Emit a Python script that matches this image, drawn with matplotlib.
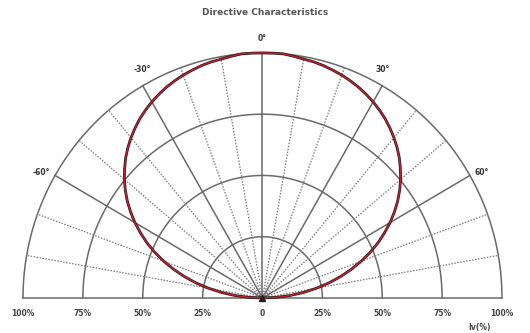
import numpy as np
import matplotlib.pyplot as plt

# radiation pattern, relative intensity vs angle (deg, 0 = on axis), 2.5 deg steps
angles = np.arange(-90, 92.5, 2.5)
intensity = [0.0, 0.058, 0.116, 0.173, 0.229, 0.285, 0.338, 0.389, 0.439, 0.487, 0.532, 0.574,
             0.615, 0.653, 0.689, 0.722, 0.753, 0.781, 0.808, 0.832, 0.854, 0.874, 0.893, 0.909,
             0.924, 0.937, 0.949, 0.959, 0.968, 0.975, 0.982, 0.987, 0.99, 0.995, 1.0, 1.0,
             1.0,
             1.0, 1.0, 0.995, 0.99, 0.987, 0.982, 0.975, 0.968, 0.959, 0.949, 0.937, 0.924,
             0.909, 0.893, 0.874, 0.854, 0.832, 0.808, 0.781, 0.753, 0.722, 0.689, 0.653, 0.615,
             0.574, 0.532, 0.487, 0.439, 0.389, 0.338, 0.285, 0.229, 0.173, 0.116, 0.058, 0.0]

rings = [0.25, 0.5, 0.75, 1.0]
solid_spokes = [-60, -30, 0, 30, 60]
dotted_spokes = [-80, -70, -50, -40, -20, -10, 10, 20, 40, 50, 70, 80]
angle_labels = ['-60°', '-30°', '0°', '30°', '60°']
scale_pos = [-1.0, -0.75, -0.5, -0.25, 0.0, 0.25, 0.5, 0.75, 1.0]
scale_labels = ['100%', '75%', '50%', '25%', '0', '25%', '50%', '75%', '100%']

fig = plt.figure(figsize=(5.3, 3.33), dpi=100)
ax = fig.add_axes([0, 0, 1, 1])
ax.set_xlim(-1.096, 1.117)
ax.set_ylim(-0.143, 1.216)
ax.axis('off')

grid_c = '#6a6a6a'
t = np.radians(np.linspace(-90, 90, 181))
for r in rings:
    ax.plot(r * np.sin(t), r * np.cos(t), color=grid_c, lw=1.1)

for a in solid_spokes:
    th = np.radians(a)
    ax.plot([0, np.sin(th)], [0, np.cos(th)], color=grid_c, lw=1.1)
for a in dotted_spokes:
    th = np.radians(a)
    ax.plot([0, np.sin(th)], [0, np.cos(th)], color='#7a7a7a', lw=0.9, ls=(0, (1.2, 1.2)))
ax.plot([-1, 1], [0, 0], color=grid_c, lw=1.1)

# pattern curve
th = np.radians(angles)
r = np.array(intensity)
ax.plot(r * np.sin(th), r * np.cos(th), color='#2a1a1a', lw=2.0, solid_joinstyle='round')
ax.plot(r * np.sin(th), r * np.cos(th), color='#c42030', lw=1.0, solid_joinstyle='round')

ax.plot([0], [0], marker='^', color='#222222', ms=4)

lab_kw = dict(fontsize=5.5, fontweight='bold', color='#333333', va='center')
for a, lab in zip(solid_spokes, angle_labels):
    th = np.radians(a)
    x, y = np.sin(th), np.cos(th)
    if a == 0:
        ax.text(0.0, 1.06, lab, ha='center', **lab_kw)
    elif abs(a) == 30:
        ax.text(x, y + 0.065, lab, ha='center', **lab_kw)
    elif a < 0:
        ax.text(x - 0.02, y + 0.01, lab, ha='right', **lab_kw)
    else:
        ax.text(x + 0.02, y + 0.01, lab, ha='left', **lab_kw)

for x, lab in zip(scale_pos, scale_labels):
    ax.text(x, -0.065, lab, ha='center', va='center', fontsize=5.5, fontweight='bold', color='#444444')
ax.text(0.905, -0.12, 'Iv(%)', ha='center', va='center', fontsize=5.5, fontweight='bold', color='#444444')

ax.text(0.01, 1.165, 'Directive Characteristics', ha='center', va='center', fontsize=6.5,
        fontweight='bold', color='#555555')

fig.savefig('out.png', dpi=100)
